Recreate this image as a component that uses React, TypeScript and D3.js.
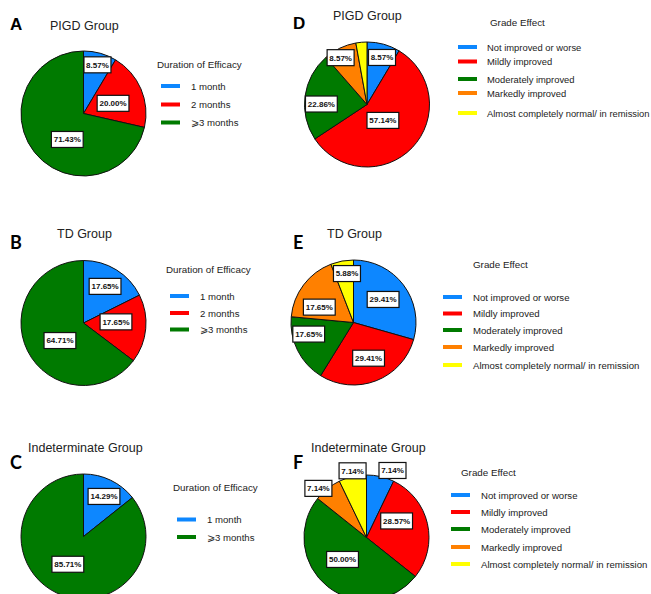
import React from 'react';
import * as d3 from 'd3';

// ---- Data ----
const durationCategories = ['1 month', '2 months', '\u2A7E3 months'];
const durationShortCategories = ['1 month', '\u2A7E3 months'];
const gradeCategories = [
  'Not improved or worse',
  'Mildly improved',
  'Moderately improved',
  'Markedly improved',
  'Almost completely normal/ in remission',
];
const pigdDuration = [8.57, 20.0, 71.43];
const tdDuration = [17.65, 17.65, 64.71];
const indetDuration = [14.29, 85.71];
const pigdGrade = [8.57, 57.14, 22.86, 8.57, 2.86];
const tdGrade = [29.41, 29.41, 17.65, 17.65, 5.88];
const indetGrade = [7.14, 28.57, 50.0, 7.14, 7.14];

// ---- Styles ----
const BLUE = '#0d87ff';
const RED = '#ff0000';
const GREEN = '#007a00';
const ORANGE = '#ff8000';
const YELLOW = '#ffff00';
const durationColors = [BLUE, RED, GREEN];
const durationShortColors = [BLUE, GREEN];
const gradeColors = [BLUE, RED, GREEN, ORANGE, YELLOW];

// label placement: [angle (deg clockwise from top), radius fraction]
type Panel = {
  letter: string; letterFont: string; lx: number; ly: number;
  title: string; tx: number; ty: number;
  cx: number; cy: number;
  values: number[]; cats: string[]; colors: string[];
  labels: ([number, number] | null)[];
  legTitle: string; legTx: number; legTy: number;
  swX: number; textX: number; itemYs: number[]; legFont: number;
};

const panels: Panel[] = [
  {
    letter: 'A', letterFont: 'Liberation Sans', lx: 10, ly: 29.5,
    title: 'PIGD Group', tx: 50, ty: 29.5, cx: 83.5, cy: 113.5,
    values: pigdDuration, cats: durationCategories, colors: durationColors,
    labels: [[16, 0.81], [71, 0.5], [212, 0.49]],
    legTitle: 'Duration of Efficacy', legTx: 157, legTy: 68,
    swX: 161, textX: 191, itemYs: [86, 104.5, 122.5], legFont: 9.6,
  },
  {
    letter: 'D', letterFont: 'Liberation Sans', lx: 293, ly: 29,
    title: 'PIGD Group', tx: 333, ty: 19.5, cx: 367, cy: 104.5,
    values: pigdGrade, cats: gradeCategories, colors: gradeColors,
    labels: [[17.7, 0.79], [135, 0.36], [270.6, 0.73], [330.6, 0.86], null],
    legTitle: 'Grade Effect', legTx: 490, legTy: 26,
    swX: 458, textX: 487, itemYs: [47, 61.5, 79, 93, 113], legFont: 9.4,
  },
  {
    letter: 'B', letterFont: 'Lato', lx: 10, ly: 249,
    title: 'TD Group', tx: 57, ty: 238, cx: 83.5, cy: 323,
    values: tdDuration, cats: durationCategories, colors: durationColors,
    labels: [[30.5, 0.68], [88, 0.52], [233.3, 0.47]],
    legTitle: 'Duration of Efficacy', legTx: 166, legTy: 273,
    swX: 170, textX: 200, itemYs: [296, 313, 329.5], legFont: 9.6,
  },
  {
    letter: 'E', letterFont: 'Lato', lx: 293, ly: 249,
    title: 'TD Group', tx: 327, ty: 238, cx: 353.5, cy: 322.5,
    values: tdGrade, cats: gradeCategories, colors: gradeColors,
    labels: [[52.1, 0.6], [157.1, 0.62], [255.5, 0.74], [294.2, 0.6], [352.4, 0.79]],
    legTitle: 'Grade Effect', legTx: 473, legTy: 268,
    swX: 443, textX: 473, itemYs: [297, 313.5, 330, 347, 365], legFont: 9.6,
  },
  {
    letter: 'C', letterFont: 'Lato', lx: 10, ly: 469,
    title: 'Indeterminate Group', tx: 28, ty: 452, cx: 83.5, cy: 536.5,
    values: indetDuration, cats: durationShortCategories, colors: durationShortColors,
    labels: [[27.1, 0.72], [209.4, 0.51]],
    legTitle: 'Duration of Efficacy', legTx: 173, legTy: 491,
    swX: 177, textX: 207, itemYs: [519.5, 537], legFont: 9.6,
  },
  {
    letter: 'F', letterFont: 'Lato', lx: 293, ly: 469,
    title: 'Indeterminate Group', tx: 311, ty: 452, cx: 366.5, cy: 537.5,
    values: indetGrade, cats: gradeCategories, colors: gradeColors,
    labels: [[21.2, 1.15], [61.2, 0.55], [227.5, 0.52], [315.6, 1.1], [348.2, 1.09]],
    legTitle: 'Grade Effect', legTx: 461, legTy: 476,
    swX: 451, textX: 481, itemYs: [495, 512, 529, 547, 564], legFont: 9.6,
  },
];

const R = 62.5;
const FONT = "'Liberation Sans', Arial, sans-serif";

function PiePanel({ p }: { p: Panel }) {
  const pie = d3.pie<number>().sort(null).value((d) => d);
  const arcs = pie(p.values);
  const arcGen = d3.arc<d3.PieArcDatum<number>>().innerRadius(0).outerRadius(R);
  return (
    <g>
      <text x={p.lx} y={p.ly} fontFamily={`'${p.letterFont}', sans-serif`} fontWeight="bold" fontSize={p.letterFont === 'Lato' ? 18 : 17} fill="#000">
        {p.letter}
      </text>
      <text x={p.tx} y={p.ty} fontFamily={FONT} fontSize={12.5} fill="#222">{p.title}</text>
      <g transform={`translate(${p.cx},${p.cy})`}>
        {arcs.map((a, i) => (
          <path key={i} d={arcGen(a) || ''} fill={p.colors[i]} stroke="#111" strokeWidth={1} strokeLinejoin="round" />
        ))}
        {arcs.map((a, i) => {
          const lab = p.labels[i];
          if (!lab) return null;
          const [x, y] = d3.pointRadial((lab[0] * Math.PI) / 180, lab[1] * R);
          const txt = `${a.data.toFixed(2)}%`;
          const w = txt.length * 4.8 + 3;
          const h = 16;
          return (
            <g key={'l' + i} transform={`translate(${x},${y})`}>
              <rect x={-w / 2} y={-h / 2} width={w} height={h} fill="#fff" stroke="#111" strokeWidth={1.2} />
              <text x={0} y={2.9} textAnchor="middle" fontFamily={FONT} fontWeight="bold" fontSize={8} fill="#111">{txt}</text>
            </g>
          );
        })}
      </g>
      <text x={p.legTx} y={p.legTy} fontFamily={FONT} fontSize={9.8} fill="#222">{p.legTitle}</text>
      {p.cats.map((c, i) => (
        <g key={'g' + i}>
          <rect x={p.swX} y={p.itemYs[i] - 2} width={19} height={4} fill={p.colors[i]} />
          <text x={p.textX} y={p.itemYs[i] + 3.5} fontFamily={FONT} fontSize={p.legFont} fill="#222">{c}</text>
        </g>
      ))}
    </g>
  );
}

export default function App() {
  return (
    <svg width={651} height={594} viewBox="0 0 651 594" style={{ position: 'absolute', left: 0, top: 0, background: '#fff' }}>
      <rect width={651} height={594} fill="#fff" />
      {panels.map((p, i) => (
        <PiePanel key={i} p={p} />
      ))}
    </svg>
  );
}
